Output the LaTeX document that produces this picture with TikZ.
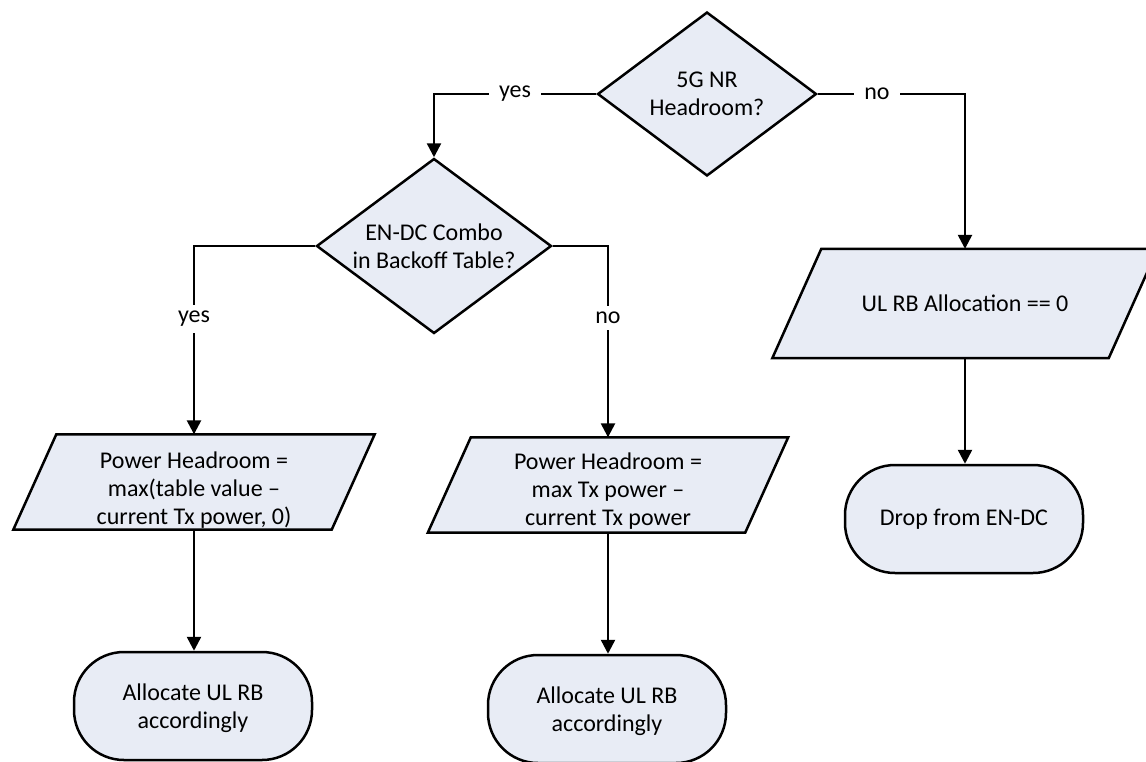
\documentclass[tikz,border=0pt]{standalone}
\usepackage{fontspec}
\setmainfont{Carlito}
\usetikzlibrary{shapes.geometric,arrows.meta}
\definecolor{boxfill}{RGB}{232,236,245}
\begin{document}
\begin{tikzpicture}[x=1pt,y=-1pt,
  base/.style={draw=black, line width=2.5pt, fill=boxfill, line join=miter},
  txt/.style={font=\fontsize{24}{28}\selectfont, align=center, inner sep=0pt},
  dec/.style={base, diamond, inner sep=0pt},
  iobox/.style={rectangle, inner sep=0pt},
  term/.style={base, rectangle, rounded corners=50pt, minimum width=238pt, minimum height=108pt, inner sep=0pt},
  conn/.style={line width=2.5pt, -{Triangle[length=14pt,width=14pt]}},
  lbl/.style={font=\fontsize{24}{28}\selectfont, fill=white, inner xsep=10pt, inner ysep=6pt}
]
\useasboundingbox (0,0) rectangle (1146,761);

% decisions
\node[dec, minimum width=219pt, minimum height=164pt] (d1) at (707,94) {};
\node[txt] (d1t) at (d1) {5G NR\\Headroom?};
\node[dec, minimum width=235pt, minimum height=175pt] (d2) at (434,246) {};
\node[txt] (d2t) at (d2) {EN-DC Combo\\in Backoff Table?};

% data boxes (parallelograms drawn on invisible frames)
\node[iobox, minimum width=361pt, minimum height=95pt] (p1) at (194,482) {};
\filldraw[base] ([xshift=43pt]p1.north west) -- (p1.north east) -- ([xshift=-43pt]p1.south east) -- (p1.south west) -- cycle;
\node[txt] (p1t) at (194,490) {Power Headroom =\\max(table value --\\current Tx power, 0)};

\node[iobox, minimum width=360pt, minimum height=95pt] (p2) at (608,485) {};
\filldraw[base] ([xshift=43pt]p2.north west) -- (p2.north east) -- ([xshift=-43pt]p2.south east) -- (p2.south west) -- cycle;
\node[txt] (p2t) at (608,491) {Power Headroom =\\max Tx power --\\current Tx power};

\node[iobox, minimum width=385pt, minimum height=109pt] (p3) at (965,303.5) {};
\filldraw[base] ([xshift=49pt]p3.north west) -- (p3.north east) -- ([xshift=-49pt]p3.south east) -- (p3.south west) -- cycle;
\node[txt] (p3t) at (p3) {UL RB Allocation == 0};

% terminals
\node[term] (t1) at (193,706) {};
\node[txt] (t1t) at (193,708) {Allocate UL RB\\accordingly};
\node[term] (t2) at (607,709) {};
\node[txt] (t2t) at (607,711) {Allocate UL RB\\accordingly};
\node[term] (t3) at (964,519) {};
\node[txt] (t3t) at (t3) {Drop from EN-DC};

% connectors
\draw[conn] (d1.west) -| (d2.north);
\draw[conn] (d1.east) -| (p3.north);
\draw[conn] (d2.west) -| (p1.north);
\draw[conn] (d2.east) -| (p2.north);
\draw[conn] (p1.south) -- (p1.south |- t1.north);
\draw[conn] (p2.south) -- (p2.south |- t2.north);
\draw[conn] (p3.south) -- (p3.south |- t3.north);

% labels
\node[lbl] (l1) at (515,94) {yes};
\node[lbl] (l2) at (877,94) {no};
\node[lbl] (l3) at (194,319) {yes};
\node[lbl] (l4) at (608,318) {no};
\end{tikzpicture}
\end{document}
